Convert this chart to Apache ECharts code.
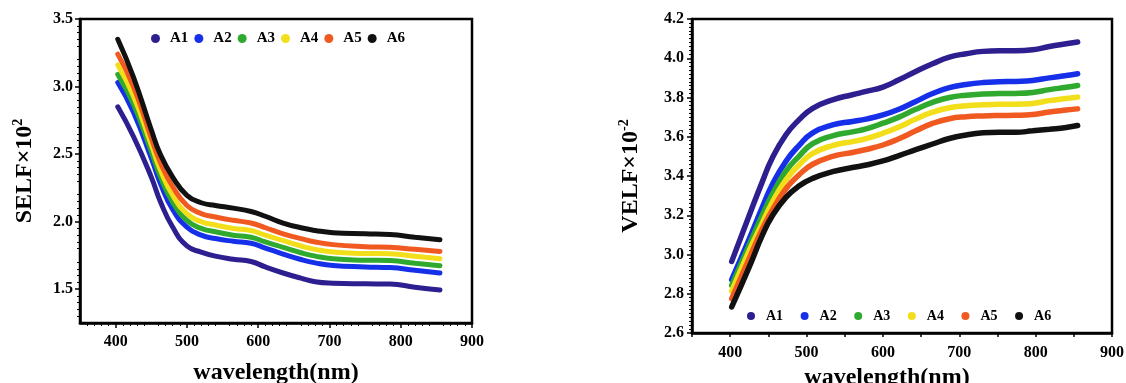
<!DOCTYPE html>
<html>
<head>
<meta charset="utf-8">
<script src="https://cdn.jsdelivr.net/npm/echarts@6/dist/echarts.min.js"></script>
<style>html,body{margin:0;padding:0;background:#fff}#c{width:1126px;height:383px}</style>
</head>
<body>
<div id="c"></div>
<script>
// ---- data ----
const seriesNames = ['A1','A2','A3','A4','A5','A6'];
const seriesColors = ['#2d1f8f','#1530e8','#2faa2f','#f2de1a','#f05a20','#111111'];

const selfX = [403,425,450,463,480,500,520,540,565,590,610,635,660,680,705,750,785,820,855];
const SELF_A1 = [2.85,2.63,2.33,2.145,1.96,1.82,1.775,1.745,1.722,1.705,1.665,1.62,1.582,1.556,1.545,1.54,1.538,1.515,1.495];
const SELF_A2 = [3.03,2.81,2.47,2.28,2.09,1.96,1.90,1.875,1.855,1.84,1.805,1.76,1.72,1.695,1.675,1.665,1.66,1.64,1.62];
const SELF_A3 = [3.09,2.87,2.52,2.33,2.145,2.01,1.95,1.925,1.90,1.885,1.85,1.81,1.77,1.745,1.725,1.715,1.712,1.692,1.673];
const SELF_A4 = [3.16,2.93,2.57,2.38,2.195,2.06,2.00,1.975,1.95,1.935,1.90,1.86,1.82,1.795,1.775,1.765,1.762,1.744,1.725];
const SELF_A5 = [3.24,3.00,2.62,2.435,2.26,2.12,2.06,2.035,2.01,1.99,1.955,1.91,1.875,1.85,1.83,1.815,1.81,1.795,1.78];
const SELF_A6 = [3.35,3.07,2.68,2.495,2.33,2.195,2.14,2.12,2.10,2.075,2.04,1.99,1.955,1.935,1.918,1.91,1.905,1.885,1.866];

const velfX = [402,425,442,455,473,490,508,534,560,578,600,621,643,665,687,709,731,752,774,796,818,840,855];
const VELF_A1 = [2.965,3.20,3.37,3.49,3.61,3.686,3.745,3.788,3.814,3.831,3.853,3.89,3.933,3.972,4.006,4.023,4.035,4.038,4.038,4.043,4.06,4.074,4.083];
const VELF_A2 = [2.872,3.08,3.24,3.355,3.475,3.555,3.62,3.66,3.678,3.69,3.711,3.74,3.78,3.82,3.85,3.866,3.876,3.88,3.882,3.887,3.9,3.912,3.921];
const VELF_A3 = [2.843,3.05,3.20,3.305,3.425,3.50,3.565,3.605,3.625,3.64,3.669,3.70,3.74,3.775,3.80,3.812,3.818,3.82,3.821,3.826,3.84,3.852,3.861];
const VELF_A4 = [2.814,3.02,3.16,3.265,3.38,3.455,3.515,3.555,3.575,3.59,3.618,3.65,3.69,3.725,3.748,3.758,3.763,3.765,3.766,3.77,3.784,3.795,3.802];
const VELF_A5 = [2.775,2.98,3.13,3.225,3.335,3.405,3.46,3.50,3.52,3.535,3.558,3.59,3.63,3.668,3.692,3.702,3.706,3.708,3.709,3.713,3.726,3.736,3.742];
const VELF_A6 = [2.733,2.937,3.097,3.196,3.291,3.349,3.388,3.422,3.443,3.456,3.477,3.504,3.534,3.563,3.591,3.609,3.62,3.623,3.623,3.63,3.638,3.647,3.657];

const xTickLabels = [400,500,600,700,800,900];
const selfYTickLabels = [1.5,2.0,2.5,3.0,3.5];

const selfData = [SELF_A1,SELF_A2,SELF_A3,SELF_A4,SELF_A5,SELF_A6];
const velfData = [VELF_A1,VELF_A2,VELF_A3,VELF_A4,VELF_A5,VELF_A6];

// ---- chart ----
const FONT = 'Liberation Serif';
const chart = echarts.init(document.getElementById('c'), null, {renderer:'canvas'});

function mkSeries(xs, ys, gi, width){
  return ys.map((arr, i) => ({
    name: seriesNames[i],
    type: 'line',
    xAxisIndex: gi, yAxisIndex: gi,
    data: arr.map((v, k) => [xs[k], v]),
    smooth: 0.5,
    showSymbol: false,
    symbol: 'circle',
    lineStyle: {width: width, color: seriesColors[i], cap: 'round'},
    itemStyle: {color: seriesColors[i]},
    z: 2 + i,
    animation: false
  }));
}

const tickLabel = {fontFamily: FONT, fontWeight: 'bold', fontSize: 16, color: '#000'};
const axisLine = {show: true, lineStyle: {color: '#000', width: 2.5}};

const option = {
  animation: false,
  legend: [
    {
      data: seriesNames, left: 146, top: 26, icon: 'circle',
      itemWidth: 9, itemHeight: 9, itemGap: 6,
      textStyle: {fontFamily: FONT, fontWeight: 'bold', fontSize: 15, color: '#000', padding: [0,0,0,5]},
      selectedMode: false
    },
    {
      data: seriesNames, left: 742, top: 304, icon: 'circle',
      itemWidth: 8, itemHeight: 8, itemGap: 17.5,
      textStyle: {fontFamily: FONT, fontWeight: 'bold', fontSize: 14, color: '#000', padding: [0,0,0,6]},
      selectedMode: false
    }
  ],
  grid: [
    {left: 80, top: 19, width: 392, height: 304, show: true, borderColor: '#000', borderWidth: 2.5, outerBoundsMode: 'none', containLabel: false},
    {left: 692, top: 19, width: 420, height: 314, show: true, borderColor: '#000', borderWidth: 2.5, outerBoundsMode: 'none', containLabel: false}
  ],
  xAxis: [
    {
      type: 'value', gridIndex: 0, min: 350, max: 900, interval: 50,
      axisLine: axisLine,
      axisTick: {show: true, customValues: xTickLabels, length: 5, lineStyle: {width: 1.5}},
      minorTick: {show: true, splitNumber: 5, length: 3, lineStyle: {color: '#000', width: 1}},
      axisLabel: Object.assign({customValues: xTickLabels, margin: 11}, tickLabel),
      splitLine: {show: false},
      name: 'wavelength(nm)', nameLocation: 'middle', nameGap: 38,
      nameTextStyle: {fontFamily: FONT, fontWeight: 'bold', fontSize: 24, color: '#000', verticalAlign: 'top'}
    },
    {
      type: 'value', gridIndex: 1, min: 350, max: 900, interval: 50,
      axisLine: axisLine,
      axisTick: {show: true, length: 4, lineStyle: {width: 1.5}},
      axisLabel: Object.assign({customValues: xTickLabels, margin: 12}, tickLabel),
      splitLine: {show: false},
      name: 'wavelength(nm)', nameLocation: 'middle', nameGap: 30,
      nameTextStyle: {fontFamily: FONT, fontWeight: 'bold', fontSize: 24, color: '#000', verticalAlign: 'top', padding: [0, 30, 0, 0]}
    }
  ],
  yAxis: [
    {
      type: 'value', gridIndex: 0, min: 1.25, max: 3.5, interval: 0.25,
      axisLine: axisLine,
      axisTick: {show: true, customValues: selfYTickLabels, length: 5, lineStyle: {width: 1.5}},
      minorTick: {show: true, splitNumber: 5, length: 3, lineStyle: {color: '#000', width: 1}},
      axisLabel: Object.assign({customValues: selfYTickLabels, margin: 7, formatter: v => v.toFixed(1)}, tickLabel),
      splitLine: {show: false},
      name: '{b|SELF×10}{s|2}', nameLocation: 'middle', nameRotate: 90, nameGap: 42,
      nameTextStyle: {
        color: '#000',
        rich: {
          b: {fontFamily: FONT, fontWeight: 'bold', fontSize: 24, color: '#000'},
          s: {fontFamily: FONT, fontWeight: 'bold', fontSize: 14, color: '#000', padding: [0,0,13,0]}
        }
      }
    },
    {
      type: 'value', gridIndex: 1, min: 2.6, max: 4.2, interval: 0.2,
      axisLine: axisLine,
      axisTick: {show: true, length: 5, lineStyle: {width: 1.5}},
      minorTick: {show: true, splitNumber: 10, length: 3, lineStyle: {color: '#000', width: 1}},
      axisLabel: Object.assign({margin: 8, formatter: v => v.toFixed(1)}, tickLabel),
      splitLine: {show: false},
      name: '{b|VELF×10}{s|-2}', nameLocation: 'middle', nameRotate: 90, nameGap: 48,
      nameTextStyle: {
        color: '#000',
        rich: {
          b: {fontFamily: FONT, fontWeight: 'bold', fontSize: 24, color: '#000'},
          s: {fontFamily: FONT, fontWeight: 'bold', fontSize: 14, color: '#000', padding: [0,0,13,0]}
        }
      }
    }
  ],
  series: [].concat(mkSeries(selfX, selfData, 0, 5), mkSeries(velfX, velfData, 1, 5.5))
};
chart.setOption(option);
</script>
</body>
</html>
